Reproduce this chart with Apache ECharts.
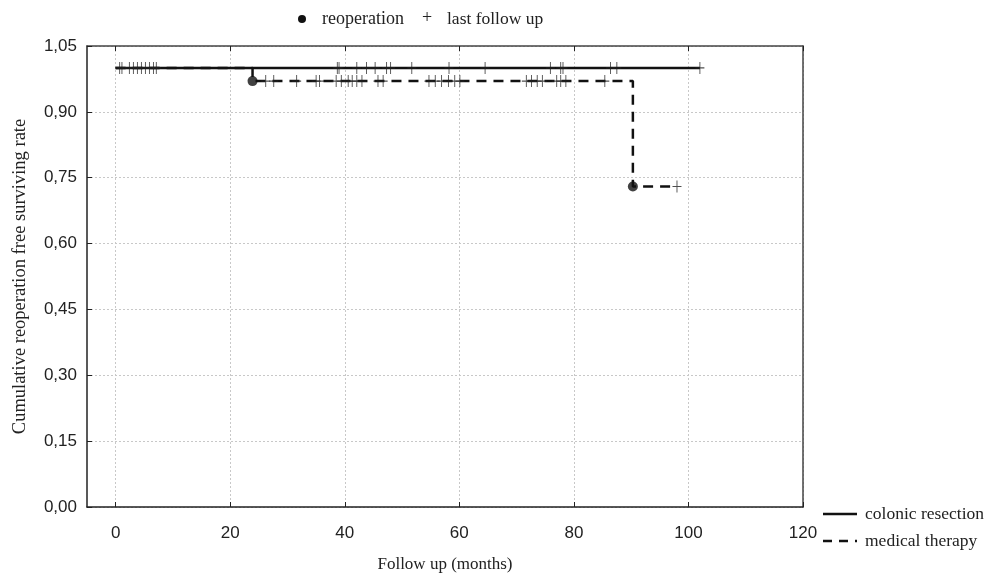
<!DOCTYPE html>
<html>
<head>
<meta charset="utf-8">
<script src="https://cdn.jsdelivr.net/npm/echarts@6/dist/echarts.min.js"></script>
<style>
  html, body { margin: 0; padding: 0; background: #fff; }
  #chart { width: 999px; height: 578px; }
</style>
</head>
<body>
<div id="chart"></div>
<script>
  // Kaplan-Meier steps (time in months, surviving rate)
  var resectionSteps = [[0, 1], [102, 1]];
  var therapySteps = [[0, 1], [23.9, 0.97], [90.3, 0.73], [98, 0.73]];

  // reoperation events
  var therapyEvents = [[23.9, 0.97], [90.3, 0.73]];

  // last follow up (censored) times
  var resectionCensor = [0.7, 1.1, 38.7, 39.0, 42.1, 43.8, 45.3, 47.3, 48.0, 51.7, 58.2,
    64.5, 75.9, 77.7, 78.1, 86.4, 87.5, 102];
  var therapyCensorTop = [2.4, 3.1, 3.8, 4.5, 5.2, 5.9, 6.6, 7.1];
  var therapyCensorMid = [26.2, 27.6, 31.6, 35.0, 35.6, 38.5, 39.4, 40.6, 41.3, 42.1, 43.0,
    45.8, 46.7, 54.7, 55.8, 56.9, 58.1, 59.2, 60.1, 71.7, 72.6, 73.6, 74.5, 77.0, 77.7, 78.6, 85.4];
  var therapyCensorLow = [98];

  var xTicks = [0, 20, 40, 60, 80, 100, 120];

  var cross = 'path://M4.5,0h1v4.5h4.5v1h-4.5v4.5h-1v-4.5h-4.5v-1h4.5z';
  var serif = '"Liberation Serif", "DejaVu Serif", serif';
  var sans = '"Liberation Sans", Arial, sans-serif';

  function at(times, y) {
    return times.map(function (t) { return [t, y]; });
  }

  var chart = echarts.init(document.getElementById('chart'));

  var gridLine = { show: true, lineStyle: { color: '#c8c8c8', type: [2, 2], width: 1 } };

  var option = {
    animation: false,
    backgroundColor: '#fff',
    grid: { left: 87, right: 196, top: 46, bottom: 67 },
    xAxis: [{
      type: 'value', min: -5, max: 120,
      axisLine: { onZero: false, lineStyle: { color: '#222', width: 1.5 } },
      axisTick: { inside: true, length: 5, customValues: xTicks, lineStyle: { color: '#222' } },
      axisLabel: { customValues: xTicks, margin: 18, fontFamily: sans, fontSize: 17, color: '#222' },
      splitLine: gridLine,
      name: 'Follow up (months)', nameLocation: 'middle', nameGap: 49,
      nameTextStyle: { fontFamily: serif, fontSize: 17, color: '#222' }
    }, {
      type: 'value', min: -5, max: 120, position: 'top',
      axisLine: { show: true, onZero: false, lineStyle: { color: '#444', width: 1.5 } },
      axisTick: { show: true, inside: true, length: 5, customValues: xTicks, lineStyle: { color: '#222' } },
      axisLabel: { show: false },
      splitLine: { show: false }
    }],
    yAxis: [{
      type: 'value', min: 0, max: 1.05, interval: 0.15,
      axisLine: { show: true, onZero: false, lineStyle: { color: '#222', width: 1.5 } },
      axisTick: { show: true, inside: true, length: 5, lineStyle: { color: '#222' } },
      axisLabel: {
        margin: 10, fontFamily: sans, fontSize: 17, color: '#222',
        formatter: function (v) { return v.toFixed(2).replace('.', ','); }
      },
      splitLine: gridLine,
      name: 'Cumulative reoperation free surviving rate', nameLocation: 'middle', nameGap: 57,
      nameTextStyle: { fontFamily: serif, fontSize: 18.5, color: '#222' }
    }, {
      type: 'value', min: 0, max: 1.05, position: 'right',
      axisLine: { show: true, onZero: false, lineStyle: { color: '#444', width: 1.5 } },
      axisTick: { show: false }, axisLabel: { show: false }, splitLine: { show: false }
    }],
    series: [{
      name: 'colonic resection', type: 'line', step: 'end', data: resectionSteps,
      showSymbol: false, lineStyle: { color: '#111', width: 2.5 }, z: 3
    }, {
      name: 'medical therapy', type: 'line', step: 'end', data: therapySteps,
      showSymbol: false, lineStyle: { color: '#111', width: 2.5, type: [10, 7] }, z: 3
    }, {
      name: 'reoperation', type: 'scatter', data: therapyEvents,
      symbol: 'circle', symbolSize: 10, itemStyle: { color: '#111' }, z: 5
    }, {
      name: 'last follow up', type: 'scatter',
      data: at(resectionCensor, 1).concat(at(therapyCensorTop, 1),
        at(therapyCensorMid, 0.97), at(therapyCensorLow, 0.73)),
      symbol: cross, symbolSize: [9, 12], itemStyle: { color: '#222' }, z: 4
    }],
    graphic: [
      { type: 'circle', shape: { cx: 302, cy: 19, r: 4 }, style: { fill: '#111' } },
      { type: 'text', x: 322, y: 19, style: { text: 'reoperation', fontFamily: serif, fontSize: 18, fill: '#222', verticalAlign: 'middle' } },
      { type: 'text', x: 422, y: 18, style: { text: '+', fontFamily: serif, fontSize: 18, fill: '#222', verticalAlign: 'middle' } },
      { type: 'text', x: 447, y: 19, style: { text: 'last follow up', fontFamily: serif, fontSize: 17.5, fill: '#222', verticalAlign: 'middle' } },
      { type: 'line', shape: { x1: 823, y1: 514, x2: 857, y2: 514 }, style: { stroke: '#111', lineWidth: 2.5 } },
      { type: 'text', x: 865, y: 514, style: { text: 'colonic resection', fontFamily: serif, fontSize: 17.5, fill: '#222', verticalAlign: 'middle' } },
      { type: 'line', shape: { x1: 823, y1: 541, x2: 857, y2: 541 }, style: { stroke: '#111', lineWidth: 2.5, lineDash: [9, 7] } },
      { type: 'text', x: 865, y: 541, style: { text: 'medical therapy', fontFamily: serif, fontSize: 17.5, fill: '#222', verticalAlign: 'middle' } }
    ]
  };

  chart.setOption(option);
</script>
</body>
</html>
